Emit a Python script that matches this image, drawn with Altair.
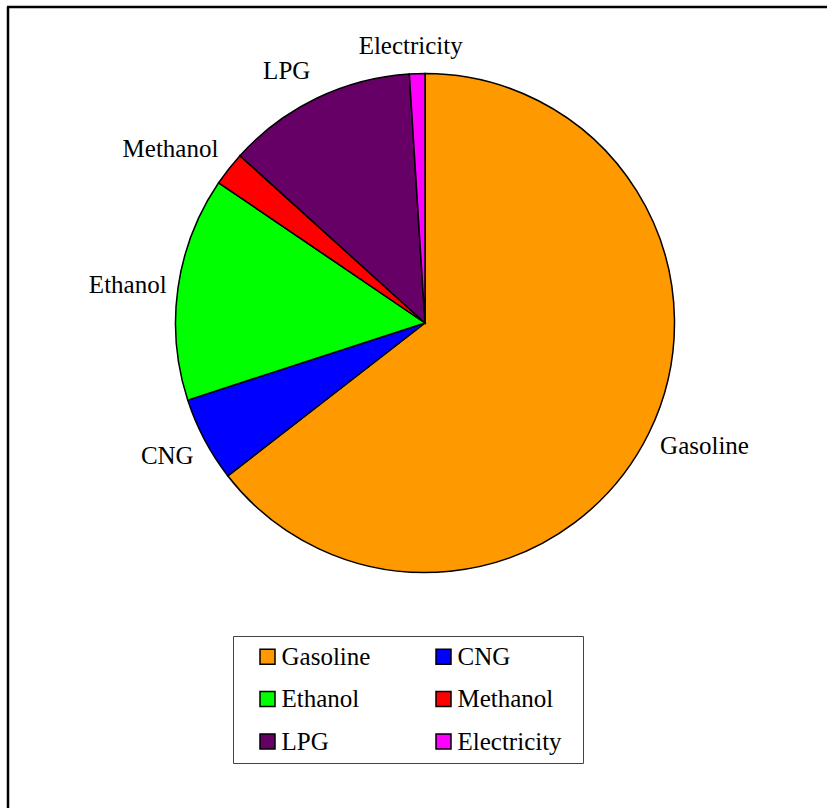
import altair as alt
import pandas as pd

# Fuel shares (percent of total)
fuels = ["Gasoline", "CNG", "Ethanol", "Methanol", "LPG", "Electricity"]
shares = [64.5, 5.5, 14.5, 2.2, 12.3, 1.0]
colors = ["#FF9900", "#0000FF", "#00FF00", "#FF0000", "#660066", "#FF00FF"]

df = pd.DataFrame({"fuel": fuels, "share": shares, "rank": list(range(len(fuels)))})

FONT = "Liberation Serif"
FONT_SIZE = 25
CX, CY = 425, 323
R = 249.5
LABEL_R = 264

base = alt.Chart(df).encode(
    theta=alt.Theta("share:Q", stack=True),
    order=alt.Order("rank:Q"),
    x=alt.value(CX),
    y=alt.value(CY),
)

pie = base.mark_arc(outerRadius=R, stroke="black", strokeWidth=1.5).encode(
    color=alt.Color(
        "fuel:N",
        scale=alt.Scale(domain=fuels, range=colors),
        legend=alt.Legend(
            title=" ",
            titleOrient="right",
            titleFontSize=1,
            titlePadding=13,
            orient="none",
            direction="horizontal",
            legendX=233,
            legendY=636,
            columns=2,
            symbolType="square",
            symbolSize=225,
            symbolStrokeColor="black",
            symbolStrokeWidth=1.5,
            symbolOffset=14,
            labelFont=FONT,
            labelFontSize=FONT_SIZE,
            labelColor="black",
            labelOffset=1.5,
            rowPadding=16.5,
            columnPadding=46,
            padding=8,
            strokeColor="#444444",
            fillColor="white",
        ),
    )
)


def slice_label(name, align, dx=0, dy=0):
    """Outside label for one slice, placed at the slice's mid-angle."""
    return base.mark_text(
        radius=LABEL_R, align=align, baseline="middle", dx=dx, dy=dy,
        font=FONT, fontSize=FONT_SIZE, color="black",
    ).encode(text=alt.condition(alt.datum.fuel == name, "fuel:N", alt.value("")))


labels = [
    slice_label("Gasoline", "left", -2, 7),
    slice_label("CNG", "right", 2, 9),
    slice_label("Ethanol", "right", 3, -1),
    slice_label("Methanol", "right", 1, -11),
    slice_label("LPG", "right", 0, -14),
    slice_label("Electricity", "center", -6, -13),
]

one = pd.DataFrame({"k": [0]})
frame_left = alt.Chart(one).mark_rule(color="black", strokeWidth=2.5).encode(
    x=alt.value(8), y=alt.value(7), y2=alt.value(808)
)
frame_top = alt.Chart(one).mark_rule(color="black", strokeWidth=2.5).encode(
    x=alt.value(7), x2=alt.value(827), y=alt.value(7)
)

chart = (
    alt.layer(frame_left, frame_top, pie, *labels)
    .properties(width=827, height=808, padding=0, autosize=alt.AutoSizeParams(type="none"))
    .configure_view(stroke=None)
)

chart.save("out.html", embed_options={"renderer": "svg", "actions": False})
